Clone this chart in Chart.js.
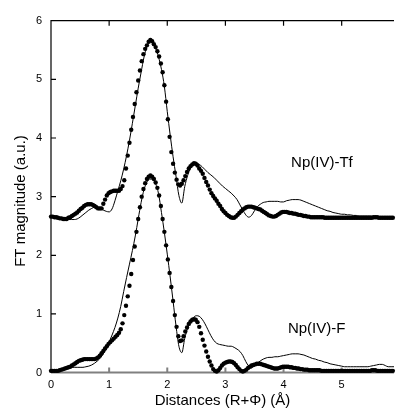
<!DOCTYPE html>
<html>
<head>
<meta charset="utf-8">
<script src="https://cdn.jsdelivr.net/npm/chart.js@4.4.1/dist/chart.umd.min.js"></script>
<style>
  html, body { margin: 0; padding: 0; background: #fff; }
  #wrap { width: 398px; height: 408px; }
</style>
</head>
<body>
<div id="wrap"><canvas id="ftChart" width="398" height="408"></canvas></div>
<script>
// Tick labels
const xTicks = [0, 1, 2, 3, 4, 5];
const yTicks = [0, 1, 2, 3, 4, 5, 6];

// Experimental curves (thin lines), sampled every 0.05 A from 0 to 5.9
const lineStep = 0.05;
const expTf = [
  2.67, 2.66, 2.64, 2.63, 2.62, 2.61, 2.61, 2.61, 2.61, 2.62,
  2.65, 2.69, 2.73, 2.77, 2.80, 2.82, 2.82, 2.80, 2.77, 2.75,
  2.74, 2.79, 2.93, 3.10, 3.27, 3.47, 3.70, 3.96, 4.25, 4.55,
  4.85, 5.12, 5.38, 5.56, 5.66, 5.63, 5.53, 5.38, 5.17, 4.88,
  4.45, 4.05, 3.68, 3.35, 3.02, 2.89, 3.17, 3.36, 3.49, 3.56,
  3.57, 3.55, 3.51, 3.46, 3.41, 3.37, 3.33, 3.28, 3.23, 3.18,
  3.14, 3.10, 3.06, 3.01, 2.95, 2.86, 2.77, 2.69, 2.65, 2.68,
  2.76, 2.83, 2.87, 2.90, 2.91, 2.92, 2.92, 2.92, 2.92, 2.91,
  2.91, 2.93, 2.94, 2.95, 2.95, 2.95, 2.94, 2.92, 2.90, 2.88,
  2.86, 2.84, 2.82, 2.80, 2.78, 2.76, 2.75, 2.73, 2.72, 2.71,
  2.70, 2.70, 2.69, 2.69, 2.68, 2.68, 2.67, 2.67, 2.67, 2.67,
  2.67, 2.66, 2.66, 2.66, 2.66, 2.66, 2.66, 2.66, 2.66
];
const expF = [
  0.04, 0.05, 0.05, 0.06, 0.07, 0.07, 0.08, 0.09, 0.09, 0.09,
  0.09, 0.09, 0.10, 0.11, 0.13, 0.16, 0.20, 0.25, 0.32, 0.41,
  0.52, 0.64, 0.77, 0.93, 1.13, 1.38, 1.62, 1.85, 2.08, 2.33,
  2.62, 2.90, 3.12, 3.25, 3.30, 3.29, 3.22, 3.05, 2.73, 2.39,
  2.02, 1.63, 1.22, 0.80, 0.45, 0.34, 0.58, 0.76, 0.87, 0.94,
  0.97, 0.96, 0.91, 0.83, 0.73, 0.63, 0.55, 0.50, 0.48, 0.47,
  0.46, 0.45, 0.45, 0.43, 0.40, 0.36, 0.29, 0.19, 0.11, 0.08,
  0.12, 0.16, 0.20, 0.23, 0.25, 0.26, 0.26, 0.27, 0.27, 0.28,
  0.29, 0.30, 0.31, 0.32, 0.32, 0.32, 0.31, 0.30, 0.28, 0.26,
  0.24, 0.23, 0.21, 0.20, 0.18, 0.17, 0.15, 0.14, 0.13, 0.12,
  0.11, 0.10, 0.10, 0.10, 0.10, 0.10, 0.10, 0.10, 0.10, 0.10,
  0.11, 0.12, 0.13, 0.14, 0.14, 0.12, 0.10, 0.10, 0.10
];

// Fitted curves (dots), sampled every 0.03 A from 0 to 5.88
const dotStep = 0.03;
const fitTf = [
  2.66, 2.66, 2.65, 2.65, 2.64, 2.63, 2.63, 2.62, 2.62, 2.62,
  2.64, 2.65, 2.67, 2.69, 2.71, 2.73, 2.76, 2.79, 2.81, 2.84,
  2.86, 2.87, 2.87, 2.87, 2.86, 2.84, 2.82, 2.80, 2.80, 2.80,
  2.88, 2.95, 3.02, 3.06, 3.08, 3.09, 3.10, 3.10, 3.10, 3.10,
  3.13, 3.18, 3.28, 3.48, 3.70, 3.92, 4.14, 4.36, 4.58, 4.78,
  4.98, 5.15, 5.31, 5.43, 5.52, 5.58, 5.64, 5.67, 5.65, 5.60,
  5.55, 5.48, 5.39, 5.27, 5.12, 4.90, 4.62, 4.32, 4.02, 3.76,
  3.56, 3.41, 3.29, 3.21, 3.19, 3.22, 3.28, 3.35, 3.42, 3.48,
  3.52, 3.55, 3.57, 3.56, 3.53, 3.48, 3.44, 3.39, 3.32, 3.25,
  3.19, 3.12, 3.06, 3.01, 2.97, 2.93, 2.88, 2.84, 2.79, 2.75,
  2.72, 2.69, 2.67, 2.65, 2.64, 2.64, 2.66, 2.69, 2.72, 2.75,
  2.78, 2.80, 2.82, 2.83, 2.83, 2.83, 2.82, 2.81, 2.80, 2.79,
  2.78, 2.76, 2.74, 2.72, 2.70, 2.68, 2.67, 2.66, 2.66, 2.67,
  2.69, 2.71, 2.73, 2.74, 2.74, 2.74, 2.73, 2.72, 2.72, 2.71,
  2.71, 2.70, 2.69, 2.69, 2.68, 2.67, 2.67, 2.66, 2.66, 2.65,
  2.65, 2.65, 2.65, 2.65, 2.65, 2.65, 2.65, 2.64, 2.64, 2.64,
  2.64, 2.64, 2.64, 2.64, 2.64, 2.64, 2.64, 2.64, 2.64, 2.64,
  2.64, 2.64, 2.64, 2.64, 2.64, 2.64, 2.64, 2.64, 2.64, 2.64,
  2.64, 2.64, 2.64, 2.64, 2.64, 2.65, 2.65, 2.65, 2.64, 2.64,
  2.64, 2.64, 2.64, 2.64, 2.64, 2.64, 2.64
];
const fitF = [
  0.03, 0.03, 0.03, 0.03, 0.03, 0.04, 0.05, 0.06, 0.07, 0.08,
  0.09, 0.10, 0.12, 0.14, 0.16, 0.18, 0.20, 0.21, 0.22, 0.23,
  0.23, 0.23, 0.23, 0.23, 0.23, 0.23, 0.24, 0.26, 0.29, 0.33,
  0.37, 0.41, 0.45, 0.49, 0.52, 0.55, 0.58, 0.61, 0.64, 0.68,
  0.74, 0.84, 0.98, 1.14, 1.30, 1.48, 1.68, 1.92, 2.15, 2.40,
  2.62, 2.82, 3.00, 3.13, 3.23, 3.30, 3.34, 3.36, 3.34, 3.30,
  3.24, 3.15, 3.02, 2.84, 2.62, 2.40, 2.17, 1.93, 1.70, 1.46,
  1.22, 0.98, 0.78, 0.62, 0.54, 0.55, 0.62, 0.70, 0.77, 0.83,
  0.87, 0.90, 0.91, 0.90, 0.86, 0.78, 0.67, 0.56, 0.46, 0.36,
  0.27, 0.19, 0.12, 0.06, 0.03, 0.02, 0.04, 0.08, 0.12, 0.15,
  0.17, 0.18, 0.19, 0.19, 0.18, 0.16, 0.13, 0.09, 0.06, 0.03,
  0.02, 0.03, 0.05, 0.08, 0.10, 0.12, 0.13, 0.14, 0.15, 0.15,
  0.15, 0.14, 0.13, 0.12, 0.11, 0.10, 0.09, 0.08, 0.07, 0.07,
  0.07, 0.08, 0.09, 0.10, 0.10, 0.10, 0.10, 0.09, 0.09, 0.08,
  0.08, 0.07, 0.07, 0.06, 0.06, 0.05, 0.05, 0.05, 0.04, 0.04,
  0.04, 0.04, 0.04, 0.04, 0.04, 0.03, 0.03, 0.03, 0.03, 0.03,
  0.03, 0.03, 0.03, 0.03, 0.03, 0.03, 0.03, 0.03, 0.03, 0.03,
  0.03, 0.03, 0.03, 0.03, 0.03, 0.03, 0.03, 0.03, 0.03, 0.03,
  0.03, 0.03, 0.03, 0.03, 0.04, 0.04, 0.04, 0.03, 0.03, 0.03,
  0.03, 0.03, 0.03, 0.03, 0.03, 0.03, 0.03
];

// Curve labels: [text, x, y] in data units
const curveLabels = [
  ['Np(IV)-Tf', 4.66, 3.58],
  ['Np(IV)-F', 4.57, 0.74]
];

const xTitle = 'Distances (R+\u03A6) (\u00C5)';
const yTitle = 'FT magnitude (a.u.)';

const FONT = '"Liberation Sans", Arial, Helvetica, sans-serif';

function toPoints(values, step) {
  return values.map((v, i) => ({ x: +(i * step).toFixed(2), y: v }));
}

// Axes frame, inward ticks, labels and titles
const framePlugin = {
  id: 'framePlugin',
  beforeDatasetsDraw(chart) {
    const { ctx, chartArea: a, scales: { x, y } } = chart;
    const tick = 5;
    ctx.save();
    // bottom axis (grey in the original)
    ctx.strokeStyle = '#808080';
    ctx.lineWidth = 2;
    ctx.beginPath();
    ctx.moveTo(a.left, a.bottom);
    ctx.lineTo(a.right, a.bottom);
    xTicks.forEach(v => {
      if (v === 0) return;
      const px = x.getPixelForValue(v);
      ctx.moveTo(px, a.bottom);
      ctx.lineTo(px, a.bottom - tick);
    });
    ctx.stroke();

    ctx.strokeStyle = '#000';
    ctx.lineWidth = 1.2;
    ctx.beginPath();
    ctx.moveTo(a.left, a.bottom);
    ctx.lineTo(a.left, a.top);
    ctx.lineTo(a.right, a.top);
    xTicks.forEach(v => {
      if (v === 0) return;
      const px = x.getPixelForValue(v);
      ctx.moveTo(px, a.top);
      ctx.lineTo(px, a.top + tick);
    });
    yTicks.forEach(v => {
      if (v === 0 || v === 6) return;
      const py = y.getPixelForValue(v);
      ctx.moveTo(a.left, py);
      ctx.lineTo(a.left + tick, py);
    });
    ctx.stroke();
    ctx.restore();
  },
  afterDraw(chart) {
    const { ctx, chartArea: a, scales: { x, y } } = chart;
    ctx.save();
    ctx.fillStyle = '#000';
    ctx.font = '11px ' + FONT;

    ctx.textAlign = 'right';
    ctx.textBaseline = 'middle';
    yTicks.forEach(v => ctx.fillText(String(v), a.left - 9, y.getPixelForValue(v)));

    ctx.textAlign = 'center';
    ctx.textBaseline = 'top';
    xTicks.forEach(v => ctx.fillText(String(v), x.getPixelForValue(v), a.bottom + 7));

    ctx.font = '15px ' + FONT;
    ctx.textBaseline = 'alphabetic';
    ctx.fillText(xTitle, (a.left + a.right) / 2, 405);

    ctx.save();
    ctx.translate(25, 201);
    ctx.rotate(-Math.PI / 2);
    ctx.fillText(yTitle, 0, 0);
    ctx.restore();

    ctx.textBaseline = 'middle';
    curveLabels.forEach(([t, vx, vy]) => {
      ctx.fillText(t, x.getPixelForValue(vx), y.getPixelForValue(vy));
    });
    ctx.restore();
  }
};

const ctx = document.getElementById('ftChart').getContext('2d');
const ftChart = new Chart(ctx, {
  type: 'scatter',
  data: {
    datasets: [
      {
        label: 'Np(IV)-Tf exp',
        data: toPoints(expTf, lineStep),
        showLine: true,
        borderColor: '#000',
        borderWidth: 1,
        pointRadius: 0,
        cubicInterpolationMode: 'monotone'
      },
      {
        label: 'Np(IV)-F exp',
        data: toPoints(expF, lineStep),
        showLine: true,
        borderColor: '#000',
        borderWidth: 1,
        pointRadius: 0,
        cubicInterpolationMode: 'monotone'
      },
      {
        label: 'Np(IV)-Tf fit',
        data: toPoints(fitTf, dotStep),
        showLine: false,
        pointRadius: 2.2,
        pointBorderWidth: 0,
        backgroundColor: '#000',
        clip: false
      },
      {
        label: 'Np(IV)-F fit',
        data: toPoints(fitF, dotStep),
        showLine: false,
        pointRadius: 2.2,
        pointBorderWidth: 0,
        backgroundColor: '#000',
        clip: false
      }
    ]
  },
  options: {
    responsive: false,
    animation: false,
    devicePixelRatio: 1,
    layout: { padding: { top: 20.7, right: 0, bottom: 0, left: 0 } },
    plugins: {
      legend: { display: false },
      tooltip: { enabled: false }
    },
    scales: {
      x: {
        type: 'linear',
        min: 0,
        max: 5.9,
        grid: { display: false },
        border: { display: false },
        ticks: { display: false },
        afterBuildTicks: s => { s.ticks = xTicks.map(v => ({ value: v })); },
        afterFit: s => { s.height = 35.4; }
      },
      y: {
        type: 'linear',
        min: 0,
        max: 6,
        grid: { display: false },
        border: { display: false },
        ticks: { display: false },
        afterBuildTicks: s => { s.ticks = yTicks.map(v => ({ value: v })); },
        afterFit: s => { s.width = 51; }
      }
    }
  },
  plugins: [framePlugin]
});
</script>
</body>
</html>
